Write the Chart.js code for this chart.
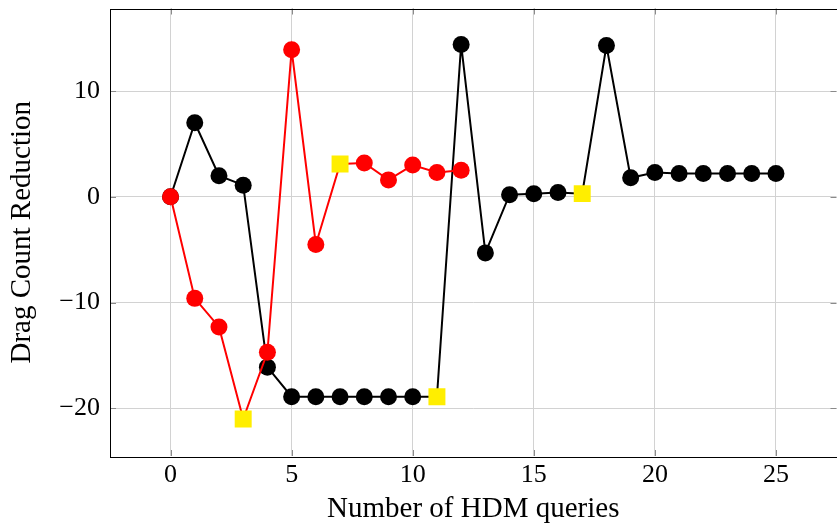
<!DOCTYPE html>
<html>
<head>
<meta charset="utf-8">
<script src="https://cdn.jsdelivr.net/npm/chart.js@4/dist/chart.umd.min.js"></script>
<style>
  html, body { margin: 0; padding: 0; overflow: hidden; background: #fff; }
  #wrap { width: 845px; height: 525px; }
</style>
</head>
<body>
<div id="wrap"><canvas id="dragChart"></canvas></div>
<script>
// queries 0..25
const queries = [0, 1, 2, 3, 4, 5, 6, 7, 8, 9, 10, 11, 12, 13, 14, 15, 16, 17, 18, 19, 20, 21, 22, 23, 24, 25]
const blackValues = [0, 7.0, 2.0, 1.1, -16.1, -18.9, -18.9, -18.9, -18.9, -18.9, -18.9, -18.9, 14.4, -5.3, 0.2, 0.3, 0.4, 0.3, 14.3, 1.8, 2.3, 2.2, 2.2, 2.2, 2.2, 2.2]
const redValues = [0, -9.6, -12.3, -21.0, -14.7, 13.9, -4.5, 3.1, 3.2, 1.6, 3.0, 2.3, 2.5]
const blackSquares = [11, 17]
const redSquares = [3, 7]
const xTicks = [0, 5, 10, 15, 20, 25]
const yTicks = [-20, -10, 0, 10]

const toPoints = (vals) => vals.map((v, i) => ({ x: queries[i], y: v }))
const fmt = (v) => String(v).replace("-", "\u2212")

// pgfplots style frame + inner tick marks
const framePlugin = {
  id: "frame",
  afterDraw(chart) {
    const { ctx, chartArea: a, scales } = chart
    ctx.save()
    ctx.strokeStyle = "#8a8a8a"
    ctx.lineWidth = 1
    ctx.beginPath()
    xTicks.forEach((t) => {
      const px = Math.round(scales.x.getPixelForValue(t)) + 0.5
      ctx.moveTo(px, a.bottom); ctx.lineTo(px, a.bottom - 6)
      ctx.moveTo(px, a.top); ctx.lineTo(px, a.top + 6)
    })
    yTicks.forEach((t) => {
      const py = Math.round(scales.y.getPixelForValue(t)) + 0.5
      ctx.moveTo(a.left, py); ctx.lineTo(a.left + 6, py)
      ctx.moveTo(a.right, py); ctx.lineTo(a.right - 6, py)
    })
    ctx.stroke()
    ctx.strokeStyle = "#000"
    ctx.strokeRect(Math.round(a.left) + 0.5, Math.round(a.top) + 0.5, Math.round(a.right - a.left), Math.round(a.bottom - a.top))
    ctx.restore()
  },
}

const markerOpts = (color, squares) => ({
  borderColor: color,
  borderWidth: 2,
  pointStyle: (c) => (squares.includes(c.dataIndex) ? "rect" : "circle"),
  pointRadius: (c) => (squares.includes(c.dataIndex) ? 12 : 8.5),
  pointHoverRadius: (c) => (squares.includes(c.dataIndex) ? 12 : 8.5),
  pointBackgroundColor: (c) => (squares.includes(c.dataIndex) ? "#ffee00" : color),
  pointBorderColor: (c) => (squares.includes(c.dataIndex) ? "#ffee00" : color),
  pointBorderWidth: 0,
  fill: false,
  tension: 0,
})

new Chart(document.querySelector("#dragChart"), {
  type: "scatter",
  data: {
    datasets: [
      { label: "red", data: toPoints(redValues), showLine: true, ...markerOpts("#ff0000", redSquares) },
      { label: "black", data: toPoints(blackValues), showLine: true, ...markerOpts("#000000", blackSquares) },
    ],
  },
  options: {
    responsive: true,
    maintainAspectRatio: false,
    animation: false,
    layout: { padding: { top: 8, right: 4, left: 0, bottom: 0 } },
    plugins: { legend: { display: false }, tooltip: { enabled: false } },
    scales: {
      x: {
        type: "linear",
        min: -2.5,
        max: 27.5,
        afterBuildTicks: (s) => { s.ticks = xTicks.map((v) => ({ value: v })) },
        afterFit: (s) => { s.height = 69; s.paddingLeft = 0; s.paddingRight = 0 },
        grid: { color: "#d2d2d2", lineWidth: 1, tickLength: 0 },
        border: { display: false },
        ticks: { font: { family: "Liberation Serif", size: 26 }, color: "#000", padding: 4, callback: fmt },
        title: { display: true, text: "Number of HDM queries", font: { family: "Liberation Serif", size: 29, lineHeight: 1.1 }, color: "#000", padding: { top: 0, bottom: 0 } },
      },
      y: {
        min: -24.5,
        max: 17.8,
        afterBuildTicks: (s) => { s.ticks = yTicks.map((v) => ({ value: v })) },
        afterFit: (s) => { s.width = 110; s.paddingTop = 0; s.paddingBottom = 0 },
        grid: { color: "#d2d2d2", lineWidth: 1, tickLength: 0 },
        border: { display: false },
        ticks: { font: { family: "Liberation Serif", size: 26 }, color: "#000", padding: 10, callback: fmt },
        title: { display: true, text: "Drag Count Reduction", font: { family: "Liberation Serif", size: 29, lineHeight: 1.1 }, color: "#000", padding: { top: 6, bottom: 0 } },
      },
    },
  },
  plugins: [framePlugin],
})
</script>
</body>
</html>
